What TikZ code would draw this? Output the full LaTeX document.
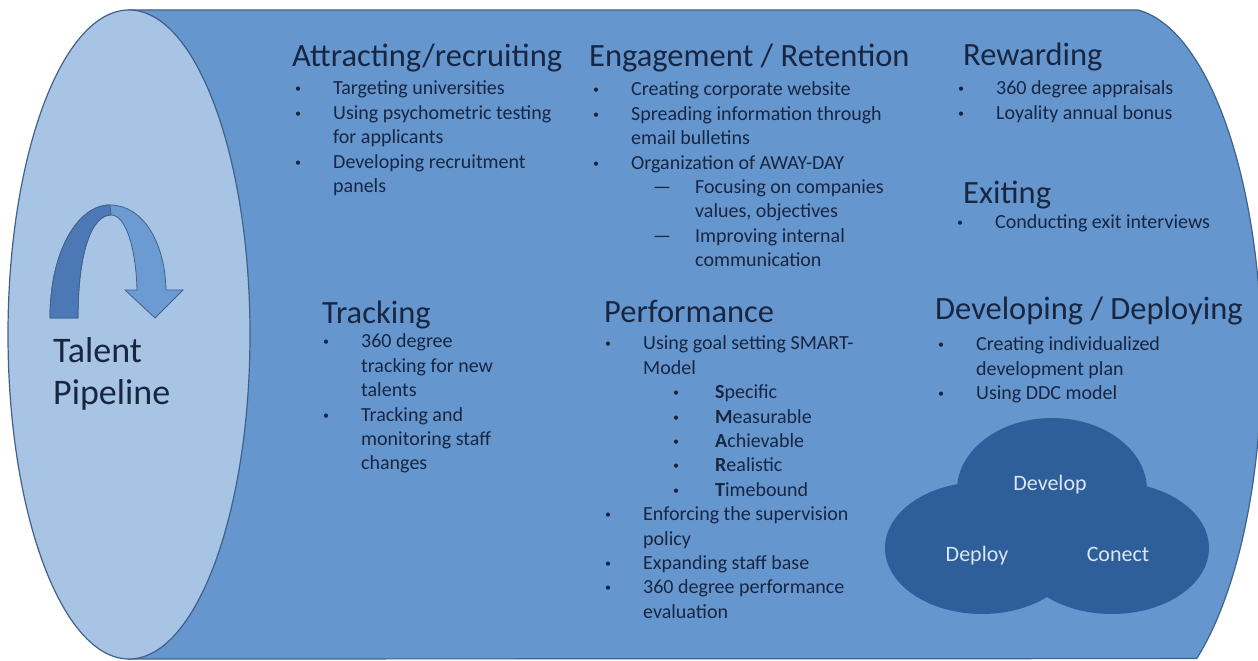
\documentclass[tikz,border=0pt]{standalone}
\usepackage{fontspec}
\setmainfont{Carlito}
\usetikzlibrary{shapes.geometric, positioning}

\definecolor{bodyblue}{RGB}{101,150,206}
\definecolor{capblue}{RGB}{168,196,229}
\definecolor{edgeblue}{RGB}{64,97,140}
\definecolor{inkblue}{RGB}{24,38,66}
\definecolor{arrowlight}{RGB}{108,155,211}
\definecolor{arrowdark}{RGB}{76,121,181}
\definecolor{lobeblue}{RGB}{46,95,155}
\definecolor{lobeink}{RGB}{218,230,244}

\tikzstyle{head} = [anchor=base west,
inner sep=0pt,
text=inkblue,
font=\fontsize{32.5}{38}\selectfont]
\tikzstyle{list} = [anchor=base west,
inner sep=0pt,
text=inkblue,
font=\fontsize{20}{24.4}\selectfont]
\tikzstyle{lobe} = [ellipse,
inner sep=0pt,
fill=lobeblue]
\tikzstyle{lobetxt} = [anchor=base,
inner sep=0pt,
text=lobeink,
font=\fontsize{22}{26}\selectfont]

\newcommand{\bdot}{\raisebox{2pt}{\fontsize{12}{12}\selectfont •}}
\newcommand{\bitem}{\makebox[38pt][l]{\bdot}}
\newcommand{\bcont}{\hspace*{38pt}}
\newcommand{\bsub}[2]{\hspace*{#1}\makebox[42pt][l]{#2}}
\newcommand{\bsubc}[1]{\hspace*{#1}\hspace*{42pt}}

\begin{document}
\begin{tikzpicture}[x=1pt, y=1pt]
\useasboundingbox (0,0) rectangle (1258,661);

% Cylinder
\draw[edgeblue, line width=1.2pt, fill=bodyblue] (129,651) -- (1138,651)
  arc[start angle=84, end angle=-58, x radius=138, y radius=352] -- (129,2) -- cycle;
\draw[edgeblue, line width=1.2pt, fill=capblue] (129,326.5) ellipse[x radius=121, y radius=324.5];

% U-turn arrow
\draw[edgeblue, line width=0.8pt, fill=arrowlight] (50,343) .. controls (50,410) and (78,456) .. (110,456)
  .. controls (142,456) and (165,420) .. (166,371) -- (183,371) -- (155,343) -- (125,371) -- (137,371)
  .. controls (136,412) and (126,446) .. (111,446) .. controls (92,446) and (78,410) .. (78,343) -- cycle;
\draw[edgeblue, line width=0.8pt, fill=arrowdark] (50,343) .. controls (50,410) and (78,456) .. (110,456)
  -- (111,446) .. controls (92,446) and (78,410) .. (78,343) -- cycle;

\node (pipe) [list, font=\fontsize{36}{42}\selectfont] at (53,298) {\begin{tabular}[t]{@{}l@{}}Talent\\Pipeline\end{tabular}};

% Headings
\node (attrH) [head] at (292,594) {Attracting/recruiting};
\node (engH) [head] at (589,594) {Engagement / Retention};
\node (rewH) [head] at (963,595) {Rewarding};
\node (exitH) [head] at (963,457) {Exiting};
\node (trackH) [head] at (322,337) {Tracking};
\node (perfH) [head] at (604,338) {Performance};
\node (devH) [head] at (935,341) {Developing / Deploying};

% Lists
\node (attrL) [list] at (295,566) {\begin{tabular}[t]{@{}l@{}}
\bitem Targeting universities\\
\bitem Using psychometric testing\\
\bcont for applicants\\
\bitem Developing recruitment\\
\bcont panels
\end{tabular}};

\node (engL) [list] at (593,565) {\begin{tabular}[t]{@{}l@{}}
\bitem Creating corporate website\\
\bitem Spreading information through\\
\bcont email bulletins\\
\bitem Organization of AWAY-DAY\\
\bsub{60pt}{—}Focusing on companies\\
\bsubc{60pt}values, objectives\\
\bsub{60pt}{—}Improving internal\\
\bsubc{60pt}communication
\end{tabular}};

\node (rewL) [list] at (958,566) {\begin{tabular}[t]{@{}l@{}}
\bitem 360 degree appraisals\\
\bitem Loyality annual bonus
\end{tabular}};

\node (exitL) [list] at (957,432) {\begin{tabular}[t]{@{}l@{}}
\bitem Conducting exit interviews
\end{tabular}};

\node (trackL) [list] at (323,313) {\begin{tabular}[t]{@{}l@{}}
\bitem 360 degree\\
\bcont tracking for new\\
\bcont talents\\
\bitem Tracking and\\
\bcont monitoring staff\\
\bcont changes
\end{tabular}};

\node (perfL) [list] at (605,311) {\begin{tabular}[t]{@{}l@{}}
\bitem Using goal setting SMART-\\
\bcont Model\\
\bsub{68pt}{\bdot}\textbf{S}pecific\\
\bsub{68pt}{\bdot}\textbf{M}easurable\\
\bsub{68pt}{\bdot}\textbf{A}chievable\\
\bsub{68pt}{\bdot}\textbf{R}ealistic\\
\bsub{68pt}{\bdot}\textbf{T}imebound\\
\bitem Enforcing the supervision\\
\bcont policy\\
\bitem Expanding staff base\\
\bitem 360 degree performance\\
\bcont evaluation
\end{tabular}};

\node (devL) [list] at (938,310) {\begin{tabular}[t]{@{}l@{}}
\bitem Creating individualized\\
\bcont development plan\\
\bitem Using DDC model
\end{tabular}};

% DDC cloud
\node (dep) [lobe, minimum width=194pt, minimum height=132pt] at (982,113) {};
\node (con) [lobe, minimum width=194pt, minimum height=132pt] at (1112,113) {};
\node (dev) [lobe, minimum width=190pt, minimum height=144pt] at (1052,171) {};
\node (devT) [lobetxt] at (1050,170) {Develop};
\node (depT) [lobetxt] at (977,99) {Deploy};
\node (conT) [lobetxt] at (1118,99) {Conect};

\end{tikzpicture}
\end{document}
